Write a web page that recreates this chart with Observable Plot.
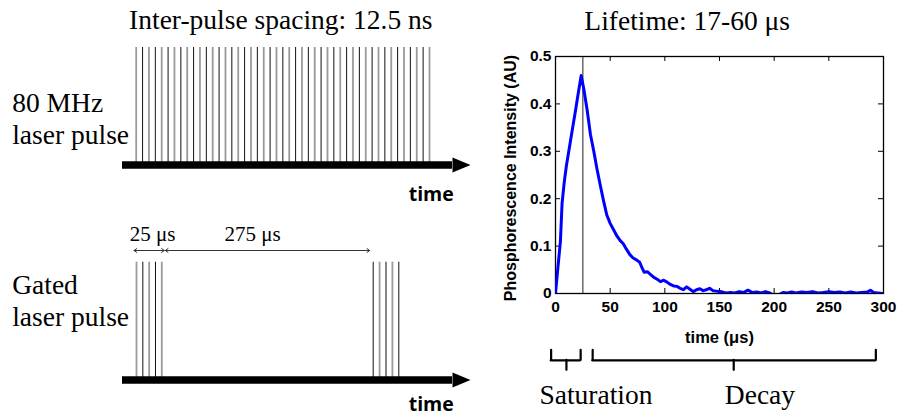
<!DOCTYPE html>
<html><head><meta charset="utf-8">
<script src="https://cdn.jsdelivr.net/npm/d3@7"></script>
<script src="https://cdn.jsdelivr.net/npm/@observablehq/plot@0.6"></script>
<style>
html,body{margin:0;padding:0;background:#fff;}
#fig{position:relative;width:898px;height:416px;overflow:hidden;background:#fff;}
#fig > svg{position:absolute;background:transparent;}
</style></head><body><div id="fig"></div>
<script>
// ---------- data ----------
const pulseTimesNs = [0,12.5,25,37.5,50,62.5,75,87.5,100,112.5,125,137.5,150,162.5,175,187.5,200,212.5,225,237.5,250,262.5,275,287.5,300,312.5,325,337.5,350,362.5,375,387.5,400,412.5,425,437.5,450,462.5,475,487.5,500,512.5,525,537.5,550,562.5,575];
const gatedPulseTimesUs = [0,6.25,12.5,18.75,25,300,306.25,312.5,318.75,325];
const gateSpans = [
  {from:0, to:25, label:"25 μs", labelAt:16},
  {from:25, to:300, label:"275 μs", labelAt:143}
];
const topTitle = "Inter-pulse spacing: 12.5 ns";
const topRowLabel = ["80 MHz", "laser pulse"];
const bottomRowLabel = ["Gated", "laser pulse"];
const chartTitle = "Lifetime: 17-60 μs";
const xLabel = "time (μs)";
const yLabel = "Phosphorescence Intensity (AU)";
const decayTimeUs = [0,2,4.5,6,8,10,12,15,18,21,23.5,26,29,32,35,38,41,44,47,50,53,56,59,62,65,68,71,74,77,79,81,84,87,90,93,96,99,102,105,108,111,114,117,120,123,126,129,132,135,138,141,144,147,150,153,156,160,164,168,172,176,180,184,188,192,196,200,204,208,212,216,220,225,230,235,240,245,250,255,260,265,270,275,280,285,288,291,295,300];
const decayIntensity = [0,0.05,0.11,0.19,0.235,0.27,0.298,0.34,0.382,0.425,0.46,0.43,0.386,0.335,0.3,0.262,0.228,0.195,0.165,0.148,0.135,0.122,0.112,0.105,0.093,0.082,0.075,0.071,0.066,0.055,0.045,0.046,0.04,0.034,0.03,0.025,0.028,0.024,0.019,0.016,0.015,0.011,0.008,0.014,0.009,0.004,0.008,0.01,0.006,0.008,0.011,0.006,0.005,0.004,0.003,0.001,0.002,0.001,0.004,0.002,0.007,0.002,0.003,0.001,0.004,0.001,-0.004,-0.003,0.002,0.001,0.003,0.001,0.003,0.002,0.004,0.001,0.002,0.004,0.002,0.003,0.001,0.003,0.001,0.002,0.003,0.007,0.002,0.001,0];
const gateMarkerUs = [25];
const xTicks = [0,50,100,150,200,250,300];
const yTicks = [0,0.1,0.2,0.3,0.4,0.5];
const phaseBraces = [
  {label:"Saturation", from:-4, to:23, tip:10, labelAt:37},
  {label:"Decay", from:34, to:293, tip:163, labelAt:187}
];

// ---------- styles ----------
const serif = "'Liberation Serif','Times New Roman',serif";
const sans = "'Open Sans','DejaVu Sans',sans-serif";
const helv = "'Liberation Sans',Arial,sans-serif";
const SERIF = 27.5;
const fig = document.getElementById("fig");
function place(el, left, top){ el.style.left = left + "px"; el.style.top = top + "px"; fig.appendChild(el); }

const headSymbol = {draw(ctx, size){ const s = Math.sqrt(size); ctx.moveTo(0.6*s,0); ctx.lineTo(-0.6*s,-0.5*s); ctx.lineTo(-0.6*s,0.5*s); ctx.closePath(); }};

function timeArrow(dyLabel){
  return [
    Plot.ruleY([0], {stroke:"black", strokeWidth:7.5}),
    Plot.dot([0], {frameAnchor:"bottom-right", dx:9, symbol:headSymbol, r:15/Math.sqrt(Math.PI), fill:"black"}),
    Plot.text(["time"], {text:d=>d, frameAnchor:"bottom-right", dx:1.3, dy:dyLabel, textAnchor:"end", lineAnchor:"bottom", fontFamily:sans, fontWeight:"bold", fontSize:19.5, fill:"black"})
  ];
}
function pulses(data){
  return [
    Plot.ruleX(data.filter((d,i)=>i%2===0), {x:d=>d, y1:()=>0, y2:()=>1, stroke:"#9a9a9a", strokeWidth:1.8}),
    Plot.ruleX(data.filter((d,i)=>i%2===1), {x:d=>d, y1:()=>0, y2:()=>1, stroke:"#111", strokeWidth:1})
  ];
}
function rowLabel(lines, dys){
  return lines.map((t,i)=>Plot.text([t], {text:d=>d, frameAnchor:"top-left", dx:-110.3, dy:dys[i], textAnchor:"start", lineAnchor:"bottom", fontFamily:serif, fontSize:SERIF, fill:"black"}));
}

// ---------- top-left: 80 MHz ----------
const p1 = Plot.plot({
  width:480, height:210,
  marginLeft:122, marginRight:28, marginTop:47, marginBottom:45.5,
  x:{domain:[0,575], range:[135.7,429], axis:null},
  y:{domain:[0,1], axis:null},
  marks:[
    ...pulses(pulseTimesNs),
    ...timeArrow(35.5),
    Plot.text([topTitle], {text:d=>d, frameAnchor:"top", dx:-6.7, dy:-18.7, textAnchor:"middle", lineAnchor:"bottom", fontFamily:serif, fontSize:SERIF, fill:"black"}),
    ...rowLabel(topRowLabel, [64, 96.3])
  ]
});
place(p1, 0, 0);

// ---------- bottom-left: gated ----------
const arrowInsets = [-2.5, 3.5];
const spanMarks = gateSpans.flatMap((s, i) => {
  const mid = (s.from + s.to) / 2;
  const common = {x1:()=>mid, y1:()=>1, y2:()=>1, dy:-11.7, insetEnd:arrowInsets[i], headLength:5, headAngle:70, stroke:"#333", strokeWidth:1};
  return [Plot.arrow([s], {...common, x2:"to"}), Plot.arrow([s], {...common, x2:"from"})];
});
const p2 = Plot.plot({
  width:480, height:206,
  marginLeft:122, marginRight:28, marginTop:51.7, marginBottom:36.5,
  x:{type:"linear", domain:[0,25,300,325], range:[136,161.3,372.7,398.3], axis:null},
  y:{domain:[0,1], axis:null},
  marks:[
    ...pulses(gatedPulseTimesUs),
    ...timeArrow(31),
    ...spanMarks,
    Plot.text(gateSpans, {x:"labelAt", y:()=>1, dy:-21.7, text:"label", textAnchor:"middle", lineAnchor:"bottom", fontFamily:serif, fontSize:21, fill:"black"}),
    ...rowLabel(bottomRowLabel, [31.3, 63.3])
  ]
});
place(p2, 0, 210);

// ---------- right: phosphorescence decay ----------
const FW = 898 - 555 - 15, FH = 293 - 56;
const decay = decayTimeUs.map((t,i)=>({t, v:decayIntensity[i]}));
const yTop = -0.12, yBar = -0.141, yTip = -0.162;
const braceStyle = {stroke:"black", strokeWidth:2.2, strokeLinecap:"round"};
const p3 = Plot.plot({
  width:418, height:416,
  marginLeft:75, marginRight:15, marginTop:56, marginBottom:123,
  x:{domain:[0,300], axis:null},
  y:{domain:[0,0.5], axis:null},
  style:{fontFamily:helv, fontSize:"15px", fontWeight:"bold", color:"black"},
  marks:[
    Plot.ruleX(gateMarkerUs, {x:d=>d, y1:()=>0, y2:()=>0.5, stroke:"#555", strokeWidth:1.3}),
    Plot.tickX(xTicks, {x:d=>d, insetTop:FH-5, stroke:"black"}),
    Plot.tickX(xTicks, {x:d=>d, insetBottom:FH-5, stroke:"black"}),
    Plot.tickY(yTicks, {y:d=>d, insetRight:FW-5, stroke:"black"}),
    Plot.tickY(yTicks, {y:d=>d, insetLeft:FW-5, stroke:"black"}),
    Plot.frame({stroke:"black", strokeWidth:1.3}),
    Plot.line(decay, {x:"t", y:"v", stroke:"#0000ff", strokeWidth:3, clip:true}),
    Plot.text(xTicks, {x:d=>d, text:d=>String(d), frameAnchor:"bottom", dy:7.5, textAnchor:"middle", lineAnchor:"top", fontSize:15.5, fill:"black"}),
    Plot.text(yTicks, {y:d=>d, text:d=>String(d), frameAnchor:"left", dx:-4, textAnchor:"end", fontSize:15.5, fill:"black"}),
    Plot.text([xLabel], {text:d=>d, frameAnchor:"bottom", dy:49.5, textAnchor:"middle", lineAnchor:"bottom", fontSize:16.5, fill:"black"}),
    Plot.text([yLabel], {text:d=>d, frameAnchor:"left", dx:-45, dy:3, rotate:-90, textAnchor:"middle", lineAnchor:"middle", fontSize:16, fill:"black"}),
    Plot.text([chartTitle], {text:d=>d, frameAnchor:"top", dx:-32.3, dy:-27, textAnchor:"middle", lineAnchor:"bottom", fontFamily:serif, fontWeight:"normal", fontSize:SERIF, fill:"black"}),
    Plot.ruleY(phaseBraces, {x1:"from", x2:"to", y:()=>yBar, ...braceStyle}),
    Plot.ruleX(phaseBraces, {x:"from", y1:()=>yTop, y2:()=>yBar, ...braceStyle}),
    Plot.ruleX(phaseBraces, {x:"to", y1:()=>yTop, y2:()=>yBar, ...braceStyle}),
    Plot.ruleX(phaseBraces, {x:"tip", y1:()=>yBar, y2:()=>yTip, ...braceStyle}),
    Plot.text(phaseBraces, {x:"labelAt", y:()=>-0.234, text:"label", textAnchor:"middle", lineAnchor:"bottom", fontFamily:serif, fontWeight:"normal", fontSize:SERIF, fill:"black"})
  ]
});
place(p3, 480, 0);
</script></body></html>
